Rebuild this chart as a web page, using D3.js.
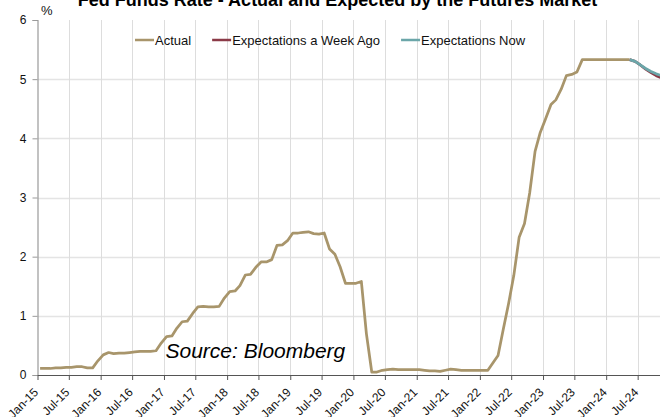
<!DOCTYPE html>
<html>
<head>
<meta charset="utf-8">
<script src="https://cdn.jsdelivr.net/npm/d3@7"></script>
<style>
  html, body { margin: 0; padding: 0; background: #ffffff; }
  svg { display: block; font-family: "Liberation Sans", Arial, sans-serif; }
</style>
</head>
<body>
<svg id="chart" width="660" height="417"></svg>
<script>
// Effective fed funds rate, monthly averages (%), starting Jan 2015
const actualStart = [2015, 0];
const actualRates = [
  0.11, 0.11, 0.11, 0.12, 0.12, 0.13, 0.13, 0.14, 0.14, 0.12, 0.12, 0.24,   // 2015
  0.34, 0.38, 0.36, 0.37, 0.37, 0.38, 0.39, 0.40, 0.40, 0.40, 0.41, 0.54,   // 2016
  0.65, 0.66, 0.79, 0.90, 0.91, 1.04, 1.15, 1.16, 1.15, 1.15, 1.16, 1.30,   // 2017
  1.41, 1.42, 1.51, 1.69, 1.70, 1.82, 1.91, 1.91, 1.95, 2.19, 2.20, 2.27,   // 2018
  2.40, 2.40, 2.41, 2.42, 2.39, 2.38, 2.40, 2.13, 2.04, 1.83, 1.55, 1.55,   // 2019
  1.55, 1.58, 0.70, 0.05, 0.05, 0.08, 0.09, 0.10, 0.09, 0.09, 0.09, 0.09,   // 2020
  0.09, 0.08, 0.07, 0.07, 0.06, 0.08, 0.10, 0.09, 0.08, 0.08, 0.08, 0.08,   // 2021
  0.08, 0.08, 0.20, 0.33, 0.77, 1.21, 1.68, 2.33, 2.56, 3.08, 3.78, 4.10,   // 2022
  4.33, 4.57, 4.65, 4.83, 5.06, 5.08, 5.12, 5.33, 5.33, 5.33, 5.33, 5.33,   // 2023
  5.33, 5.33, 5.33, 5.33, 5.33                                              // 2024
];

// Futures-implied path, monthly from May 2024
const expectStart = [2024, 4];
const weekAgoRates = [5.33, 5.30, 5.24, 5.17, 5.11, 5.06, 5.02];
const nowRates     = [5.33, 5.30, 5.24, 5.18, 5.13, 5.09, 5.06];

const seriesNames  = ["Actual", "Expectations a Week Ago", "Expectations Now"];
const seriesColors = ["#a8956b", "#8b3a47", "#6ba6a9"];
const yTickValues  = [0, 1, 2, 3, 4, 5, 6];

const chartTitle = "Fed Funds Rate - Actual and Expected by the Futures Market";
const unitLabel  = "%";
const sourceNote = "Source: Bloomberg";

// ---- layout ----
const plot = { left: 37.5, right: 669.5, top: 20, bottom: 375 };

const svg = d3.select("#chart");
svg.append("rect").attr("width", 660).attr("height", 417).attr("fill", "#ffffff");

const x = d3.scaleTime()
  .domain([new Date(2015, 0, 1), new Date(2025, 0, 1)])
  .range([plot.left, plot.right]);
const y = d3.scaleLinear().domain([0, 6]).range([plot.bottom, plot.top]);

// monthly observations sit in the middle of each month
const toPoints = (start, values) =>
  values.map((v, i) => ({ date: new Date(start[0], start[1] + i, 16), value: v }));

const actual  = toPoints(actualStart, actualRates);
const weekAgo = toPoints(expectStart, weekAgoRates);
const now     = toPoints(expectStart, nowRates);

const xTicks = d3.timeMonth.every(6).range(new Date(2015, 0, 1), new Date(2024, 11, 31));
const fmt = d3.timeFormat("%b-%y");

// ---- gridlines ----
const grid = svg.append("g");
grid.selectAll("line.h")
  .data(yTickValues.filter(v => v > 0 && v < 6))
  .join("line")
  .attr("x1", plot.left).attr("x2", plot.right)
  .attr("y1", d => Math.round(y(d)) + 0.5).attr("y2", d => Math.round(y(d)) + 0.5)
  .attr("stroke", "#e4e4e4").attr("stroke-width", 1.5);
grid.selectAll("line.v")
  .data(xTicks.slice(1))
  .join("line")
  .attr("x1", d => Math.round(x(d)) + 0.5).attr("x2", d => Math.round(x(d)) + 0.5)
  .attr("y1", plot.top).attr("y2", plot.bottom)
  .attr("stroke", "#dddddd").attr("stroke-width", 1);

// ---- axes ----
const yAxis = svg.append("g")
  .attr("transform", `translate(${plot.left},0)`)
  .call(d3.axisLeft(y).tickValues(yTickValues).tickSize(5).tickPadding(6).tickFormat(d3.format("d")));
yAxis.select(".domain").attr("stroke", "#9a9a9a").attr("stroke-width", 1.2);
yAxis.selectAll(".tick line").attr("stroke", "#9a9a9a");
yAxis.selectAll(".tick text")
  .attr("font-size", 12).attr("fill", "#111")
  .attr("font-family", "'Liberation Sans', Arial, sans-serif");

const xAxis = svg.append("g")
  .attr("transform", `translate(0,${plot.bottom})`)
  .call(d3.axisBottom(x).tickValues(xTicks).tickSize(5).tickSizeOuter(0).tickFormat(fmt));
xAxis.select(".domain").attr("stroke", "#555").attr("stroke-width", 1.2);
xAxis.selectAll(".tick line").attr("stroke", "#555");
xAxis.selectAll(".tick text")
  .attr("font-size", 12).attr("fill", "#111")
  .attr("font-family", "'Liberation Sans', Arial, sans-serif")
  .attr("text-anchor", "end")
  .attr("dy", null)
  .attr("y", 0)
  .attr("transform", "translate(1,18) rotate(-45)");

// ---- series ----
const line = d3.line().x(d => x(d.date)).y(d => y(d.value));
const lines = svg.append("g").attr("fill", "none")
  .attr("stroke-width", 2.75).attr("stroke-linejoin", "round");
lines.append("path").datum(actual).attr("d", line).attr("stroke", seriesColors[0]);
lines.append("path").datum(weekAgo).attr("d", line).attr("stroke", seriesColors[1]);
lines.append("path").datum(now).attr("d", line).attr("stroke", seriesColors[2]);

// ---- title, unit, legend, source ----
svg.append("text")
  .attr("x", 337.5).attr("y", 6)
  .attr("text-anchor", "middle")
  .attr("font-size", 18).attr("font-weight", "bold").attr("fill", "#000")
  .text(chartTitle);

svg.append("text")
  .attr("x", 41).attr("y", 15)
  .attr("font-size", 13).attr("fill", "#111")
  .text(unitLabel);

const legend = svg.append("g");
let lx = 135;
seriesNames.forEach((name, i) => {
  legend.append("line")
    .attr("x1", lx).attr("x2", lx + 19)
    .attr("y1", 40).attr("y2", 40)
    .attr("stroke", seriesColors[i]).attr("stroke-width", 2.5);
  const t = legend.append("text")
    .attr("x", lx + 20).attr("y", 44.5)
    .attr("font-size", 13).attr("fill", "#111")
    .text(name);
  lx += 20 + t.node().getComputedTextLength() + 21;
});

svg.append("text")
  .attr("x", 165.5).attr("y", 358)
  .attr("font-size", 21).attr("font-style", "italic").attr("fill", "#000")
  .text(sourceNote);
</script>
</body>
</html>
